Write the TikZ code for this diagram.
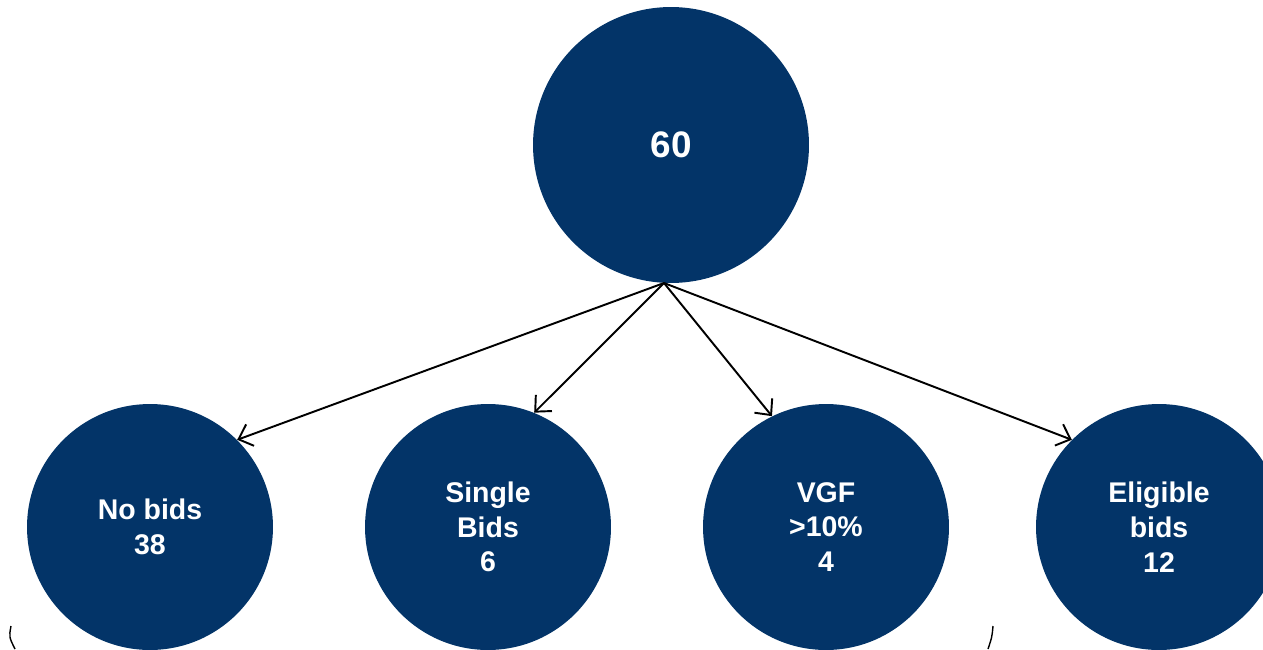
\documentclass[tikz,border=0pt]{standalone}
\usepackage{fontspec}
\setmainfont{Liberation Sans}
\usetikzlibrary{arrows.meta}
\definecolor{navy}{RGB}{3,52,104}
\tikzstyle{total}=[circle,fill=navy,text=white,minimum size=5.52cm,inner sep=0pt,font=\fontsize{21}{24}\selectfont\bfseries]
\tikzstyle{outcome}=[circle,fill=navy,text=white,minimum size=4.92cm,inner sep=0pt,align=center,font=\fontsize{16.2}{19.8}\selectfont\bfseries]
\tikzstyle{split} = [draw,line width=1.1pt,-{Straight Barb[length=7pt,width=13pt]}]
\tikzstyle{bracket} = [draw,line width=0.8pt]

\begin{document}
\begin{tikzpicture}[x=0.02cm,y=-0.02cm]
    \path[use as bounding box,clip] (0,0) rectangle (1263,649);
    % the whole set
    \node[total] (top) at (671,145) {60};
    \coordinate (fork) at (664,283);

    % the four outcomes
    \foreach \pos/ \name/ \txt in {{(150,527)/nobids/{No bids\\38}},{(488,527)/single/{Single\\Bids\\6}},{(826,527)/vgf/{VGF\\>10\%\\4}},{(1159,527)/eligible/{Eligible\\bids\\12}}}
        \node[outcome] (\name) at \pos {\txt};

    % arrows from the total to each outcome
    \foreach \dest/ \ang in {nobids/45, single/68, vgf/116, eligible/135}
        \path[split] (fork) -- (\dest.\ang);

    % brace ends under the first three
    \path[bracket] (11,626) .. controls (9,637) .. (15,649);
    \path[bracket] (993,626) .. controls (992,637) .. (988,649);
\end{tikzpicture}
\end{document}
